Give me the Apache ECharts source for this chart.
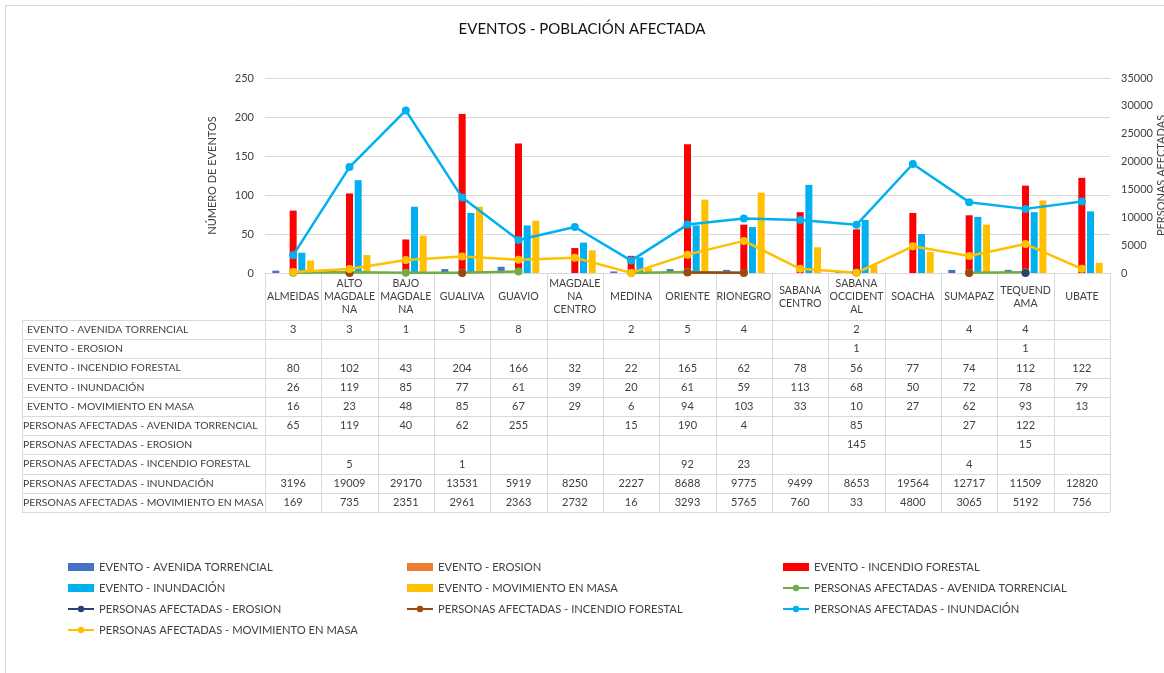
<!DOCTYPE html>
<html>
<head>
<meta charset="utf-8">
<script src="https://cdn.jsdelivr.net/npm/echarts@6/dist/echarts.min.js"></script>
<style>
  html, body { margin: 0; padding: 0; background: #fff; }
  #chart { width: 1164px; height: 673px; }
</style>
</head>
<body>
<div id="chart"></div>
<script>
// categorías (con los cortes de línea del gráfico original)
const categories = ['ALMEIDAS', 'ALTO\nMAGDALE\nNA', 'BAJO\nMAGDALE\nNA', 'GUALIVA', 'GUAVIO',
  'MAGDALE\nNA\nCENTRO', 'MEDINA', 'ORIENTE', 'RIONEGRO', 'SABANA\nCENTRO',
  'SABANA\nOCCIDENT\nAL', 'SOACHA', 'SUMAPAZ', 'TEQUEND\nAMA', 'UBATE']

// número de eventos (eje izquierdo)
const evAvenida = [3, 3, 1, 5, 8, null, 2, 5, 4, null, 2, null, 4, 4, null]
const evErosion = [null, null, null, null, null, null, null, null, null, null, 1, null, null, 1, null]
const evIncendio = [80, 102, 43, 204, 166, 32, 22, 165, 62, 78, 56, 77, 74, 112, 122]
const evInundacion = [26, 119, 85, 77, 61, 39, 20, 61, 59, 113, 68, 50, 72, 78, 79]
const evMovimiento = [16, 23, 48, 85, 67, 29, 6, 94, 103, 33, 10, 27, 62, 93, 13]

// personas afectadas (eje derecho)
const paAvenida = [65, 119, 40, 62, 255, null, 15, 190, 4, null, 85, null, 27, 122, null]
const paErosion = [null, null, null, null, null, null, null, null, null, null, 145, null, null, 15, null]
const paIncendio = [null, 5, null, 1, null, null, null, 92, 23, null, null, null, 4, null, null]
const paInundacion = [3196, 19009, 29170, 13531, 5919, 8250, 2227, 8688, 9775, 9499, 8653, 19564, 12717, 11509, 12820]
const paMovimiento = [169, 735, 2351, 2961, 2363, 2732, 16, 3293, 5765, 760, 33, 4800, 3065, 5192, 756]

const seriesNames = [
  'EVENTO - AVENIDA TORRENCIAL', 'EVENTO - EROSION', 'EVENTO - INCENDIO FORESTAL',
  'EVENTO - INUNDACIÓN', 'EVENTO - MOVIMIENTO EN MASA',
  'PERSONAS AFECTADAS - AVENIDA TORRENCIAL', 'PERSONAS AFECTADAS - EROSION',
  'PERSONAS AFECTADAS - INCENDIO FORESTAL', 'PERSONAS AFECTADAS - INUNDACIÓN',
  'PERSONAS AFECTADAS - MOVIMIENTO EN MASA'
]
const tableRows = [evAvenida, evErosion, evIncendio, evInundacion, evMovimiento,
  paAvenida, paErosion, paIncendio, paInundacion, paMovimiento]

const barColors = ['#4472C4', '#ED7D31', '#FF0000', '#00B0F0', '#FFC000']
const lineColors = ['#70AD47', '#264478', '#9E480E', '#00B0F0', '#FFC000']

const FONT = 'Lato'
const TXT = '#404040'
const GRID_L = 265, GRID_R = 1110, GRID_T = 78, GRID_B = 273
const TABLE_L = 22, TABLE_TOP = 320, ROW_H = 19.2

const chart = echarts.init(document.getElementById('chart'), null, { renderer: 'canvas' })

const barSeries = [evAvenida, evErosion, evIncendio, evInundacion, evMovimiento].map((d, i) => ({
  name: seriesNames[i],
  type: 'bar',
  data: d,
  barWidth: 7,
  barGap: '24%',
  itemStyle: { color: barColors[i] },
  z: 2
}))

const lineSeries = [paAvenida, paErosion, paIncendio, paInundacion, paMovimiento].map((d, i) => ({
  name: seriesNames[i + 5],
  type: 'line',
  yAxisIndex: 1,
  data: d,
  connectNulls: false,
  symbol: 'circle',
  symbolSize: 8,
  lineStyle: { width: 2.5, color: lineColors[i] },
  itemStyle: { color: lineColors[i] },
  z: 3
}))

const legendText = { color: TXT, fontSize: 11.2, fontFamily: FONT, lineHeight: 14 }
const legendItem = name => (seriesNames.indexOf(name) < 5 ? { name, icon: 'rect' } : { name })
const mkLegend = (left, names) => ({
  orient: 'vertical',
  left: left,
  top: 560,
  itemWidth: 26,
  itemHeight: 8,
  itemGap: 7,
  padding: 0,
  textStyle: legendText,
  data: names.map(legendItem)
})

const option = {
  animation: false,
  textStyle: { fontFamily: FONT },
  title: {
    text: 'EVENTOS - POBLACIÓN AFECTADA',
    left: 'center',
    top: 17,
    textStyle: { fontSize: 15, fontWeight: 'normal', color: '#111', fontFamily: FONT }
  },
  legend: [
    mkLegend(67, [seriesNames[0], seriesNames[3], seriesNames[6], seriesNames[9]]),
    mkLegend(406, [seriesNames[1], seriesNames[4], seriesNames[7]]),
    mkLegend(782, [seriesNames[2], seriesNames[5], seriesNames[8]])
  ],
  grid: {
    left: GRID_L,
    right: 1164 - GRID_R,
    top: GRID_T,
    bottom: 673 - GRID_B,
    containLabel: false,
    outerBoundsMode: 'none'
  },
  xAxis: {
    type: 'category',
    data: categories,
    axisLine: { lineStyle: { color: '#D9D9D9' } },
    axisTick: { show: false },
    axisLabel: {
      interval: 0,
      margin: 24,
      verticalAlign: 'middle',
      lineHeight: 13,
      fontSize: 10.6,
      color: TXT,
      fontFamily: FONT
    }
  },
  yAxis: [
    {
      type: 'value',
      min: 0,
      max: 250,
      interval: 50,
      name: 'NÚMERO DE EVENTOS',
      nameLocation: 'middle',
      nameRotate: 90,
      nameGap: 47,
      nameMoveOverlap: false,
      nameTextStyle: { color: TXT, fontSize: 11, fontFamily: FONT },
      axisLine: { show: false },
      axisTick: { show: false },
      axisLabel: { color: TXT, fontSize: 11, margin: 11, fontFamily: FONT },
      splitLine: { lineStyle: { color: '#D9D9D9' } }
    },
    {
      type: 'value',
      min: 0,
      max: 35000,
      interval: 5000,
      name: 'PERSONAS AFECTADAS',
      nameLocation: 'middle',
      nameRotate: 90,
      nameGap: 46,
      nameMoveOverlap: false,
      nameTextStyle: { color: TXT, fontSize: 11, fontFamily: FONT },
      axisLine: { show: false },
      axisTick: { show: false },
      axisLabel: { color: TXT, fontSize: 11, margin: 11, fontFamily: FONT, formatter: v => String(v) },
      splitLine: { show: false }
    }
  ],
  series: [...barSeries, ...lineSeries]
}

chart.setOption(option)

// tabla de datos bajo el eje
const buildTable = () => {
  const els = []
  const colW = (GRID_R - GRID_L) / categories.length
  const bottom = TABLE_TOP + ROW_H * tableRows.length
  const line = (x1, y1, x2, y2) => ({
    type: 'line',
    silent: true,
    shape: { x1, y1, x2, y2 },
    style: { stroke: '#D9D9D9', lineWidth: 1 }
  })

  // marco general
  els.push({ type: 'rect', silent: true, shape: { x: 5.5, y: 5.5, width: 1200, height: 700 },
    style: { fill: null, stroke: '#D9D9D9', lineWidth: 1 } })

  for (let r = 0; r <= tableRows.length; r++) {
    const y = Math.round(TABLE_TOP + r * ROW_H) + 0.5
    els.push(line(TABLE_L, y, GRID_R, y))
  }
  els.push(line(TABLE_L + 0.5, TABLE_TOP, TABLE_L + 0.5, bottom))
  for (let c = 0; c <= categories.length; c++) {
    const x = Math.round(chart.convertToPixel({ xAxisIndex: 0 }, Math.min(c, categories.length - 1)) +
      (c === categories.length ? colW / 2 : -colW / 2)) + 0.5
    els.push(line(x, GRID_B, x, bottom))
  }

  tableRows.forEach((row, r) => {
    const cy = TABLE_TOP + r * ROW_H + ROW_H / 2
    els.push({
      type: 'text', silent: true,
      style: {
        x: r < 5 ? TABLE_L + 5 : TABLE_L + 1, y: cy,
        text: seriesNames[r], fill: TXT, fontSize: 10.4, fontFamily: FONT,
        align: 'left', verticalAlign: 'middle'
      }
    })
    row.forEach((v, i) => {
      if (v === null) return
      els.push({
        type: 'text', silent: true,
        style: {
          x: chart.convertToPixel({ xAxisIndex: 0 }, i), y: cy,
          text: String(v), fill: TXT, fontSize: 11, fontFamily: FONT,
          align: 'center', verticalAlign: 'middle'
        }
      })
    })
  })
  return els
}

chart.setOption({ graphic: buildTable() })
</script>
</body>
</html>
